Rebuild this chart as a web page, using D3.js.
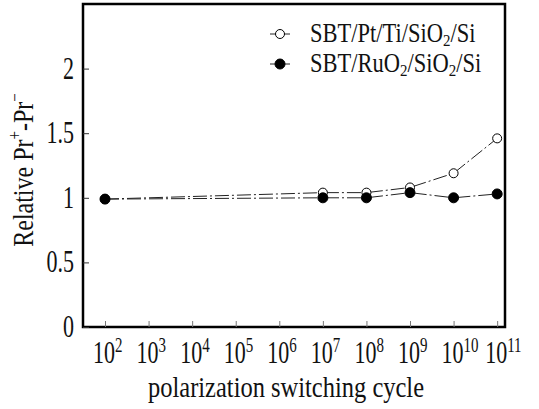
<!DOCTYPE html>
<html>
<head>
<meta charset="utf-8">
<script src="https://cdn.jsdelivr.net/npm/d3@7"></script>
<style>
  body { margin: 0; background: #fff; }
  text { font-family: "Liberation Serif", "DejaVu Serif", serif; fill: #111; }
</style>
</head>
<body>
<script>
// cycles and relative Pr+ - Pr-
var cycles = [1e2, 1e7, 1e8, 1e9, 1e10, 1e11];
var ptValues = [0.99, 1.04, 1.04, 1.08, 1.19, 1.46];   // SBT/Pt/Ti/SiO2/Si (open)
var ruValues = [0.99, 1.0, 1.0, 1.04, 1.0, 1.03];     // SBT/RuO2/SiO2/Si (filled)
var xTickExp = [2, 3, 4, 5, 6, 7, 8, 9, 10, 11];
var yTicks = [0, 0.5, 1, 1.5, 2];

var W = 539, H = 409;
var svg = d3.select('body').append('svg')
    .attr('width', W)
    .attr('height', H);

var x = d3.scaleLog()
    .domain([Math.pow(10, 1.495), Math.pow(10, 11.18)])
    .range([83, 505]);

var y = d3.scaleLinear()
    .domain([0, 2.5])
    .range([327, 4]);

var sy = 1.4; // the scanned lettering is taller than it is wide

// frame
svg.append('rect')
  .attr('x', x.range()[0])
  .attr('y', y.range()[1])
  .attr('width', x.range()[1] - x.range()[0])
  .attr('height', y.range()[0] - y.range()[1])
  .attr('fill', 'none')
  .attr('stroke', '#000')
  .attr('stroke-width', 2.5);

// y axis, ticks point inward
var yAxis = d3.axisLeft(y)
    .tickValues(yTicks)
    .tickSize(-6)
    .tickFormat('');
svg.append('g')
  .attr('transform', 'translate(' + x.range()[0] + ',0)')
  .call(yAxis)
  .call(g => g.select('.domain').remove())
  .selectAll('line').attr('stroke', '#333');

svg.selectAll('.ylab')
  .data(yTicks)
  .enter().append('text')
  .attr('class', 'ylab')
  .attr('transform', d => 'translate(74,' + (y(d) + 10) + ') scale(1,' + sy + ')')
  .attr('text-anchor', 'end')
  .attr('font-size', 22)
  .text(d => d);

// x axis, ticks point inward
var xAxis = d3.axisBottom(x)
    .tickValues(xTickExp.map(e => Math.pow(10, e)))
    .tickSize(-6)
    .tickFormat('');
svg.append('g')
  .attr('transform', 'translate(0,' + y.range()[0] + ')')
  .call(xAxis)
  .call(g => g.select('.domain').remove())
  .selectAll('line').attr('stroke', '#777');

var xl = svg.selectAll('.xlab')
  .data(xTickExp)
  .enter().append('text')
  .attr('class', 'xlab')
  .attr('transform', d => 'translate(' + (x(Math.pow(10, d)) - 12) + ',363) scale(1,' + sy + ')')
  .attr('font-size', 22);
xl.append('tspan').text('10');
xl.append('tspan')
  .attr('font-size', 15)
  .attr('dy', -8)
  .text(d => d);

// axis titles
svg.append('text')
  .attr('transform', 'translate(286,397) scale(1,1.22)')
  .attr('text-anchor', 'middle')
  .attr('font-size', 24.5)
  .text('polarization switching cycle');

var yt = svg.append('text')
  .attr('transform', 'translate(33,170) rotate(-90) scale(1,1.22)')
  .attr('text-anchor', 'middle')
  .attr('font-size', 24);
yt.append('tspan').text('Relative Pr');
yt.append('tspan').attr('font-size', 15).attr('dy', -10).text('+');
yt.append('tspan').attr('dy', 10).text('-Pr');
yt.append('tspan').attr('font-size', 15).attr('dy', -10).text('\u2212');

// series
var series = [
  { name: 'pt', values: ptValues, fill: '#fff' },
  { name: 'ru', values: ruValues, fill: '#000' }
];

var line = d3.line()
    .x(d => x(d[0]))
    .y(d => y(d[1]));

series.forEach(function(s) {
  var pts = cycles.map((c, i) => [c, s.values[i]]);
  svg.append('path')
    .datum(pts)
    .attr('d', line)
    .attr('fill', 'none')
    .attr('stroke', '#222')
    .attr('stroke-width', 1)
    .attr('stroke-dasharray', '14,3,2,3');
  svg.selectAll('.pt-' + s.name)
    .data(pts)
    .enter().append('circle')
    .attr('cx', d => x(d[0]))
    .attr('cy', d => y(d[1]))
    .attr('r', s.name == 'pt' ? 4.5 : 5)
    .attr('fill', s.fill)
    .attr('stroke', '#000')
    .attr('stroke-width', 1);
});

// legend
var legend = [
  { label: ['SBT/Pt/Ti/SiO', '2', '/Si'], fill: '#fff', yy: 34 },
  { label: ['SBT/RuO', '2', '/SiO', '2', '/Si'], fill: '#000', yy: 64 }
];
legend.forEach(function(l) {
  svg.append('line')
    .attr('x1', 270).attr('x2', 290)
    .attr('y1', l.yy).attr('y2', l.yy)
    .attr('stroke', '#222');
  svg.append('circle')
    .attr('cx', 280).attr('cy', l.yy)
    .attr('r', l.fill == '#000' ? 5 : 4.5)
    .attr('fill', l.fill)
    .attr('stroke', '#000');
  var t = svg.append('text')
    .attr('transform', 'translate(310,' + (l.yy + 8) + ') scale(1,1.18)')
    .attr('font-size', 22.5);
  l.label.forEach(function(part) {
    if (part == '2') {
      t.append('tspan').attr('font-size', 15).attr('dy', 3).text(part);
    } else {
      var sp = t.append('tspan').text(part);
      if (t.selectAll('tspan').size() > 1) sp.attr('dy', -3);
    }
  });
});
</script>
</body>
</html>
